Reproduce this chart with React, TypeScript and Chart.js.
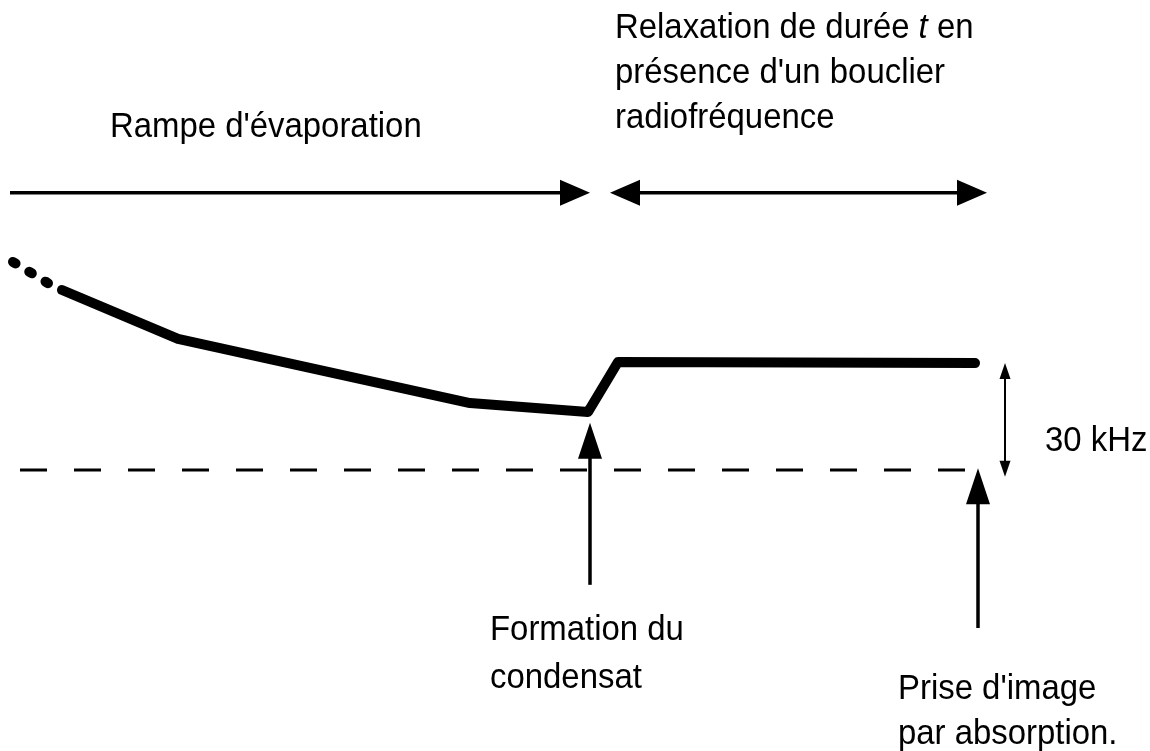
import React, { useEffect, useRef } from "react";
import { Chart, registerables } from "chart.js";

Chart.register(...registerables);

// Time axis (arbitrary units) and frequency axis (kHz relative to final cut)
const T_MIN = 0;
const T_MAX = 1150;
const F_MIN = -78.06;
const F_MAX = 130.56;

// Evaporation ramp (dotted lead-in), then ramp + relaxation plateau
const leadTime = [13, 48];
const leadFreq = [57.8, 51.9];
const curveTime = [62, 178, 470, 588, 618, 975];
const curveFreq = [50, 36.4, 18.6, 16.1, 30, 29.7];

// Reference (dashed) level
const baseTime = [20, 975];
const baseFreq = [0, 0];

// Arrows
const arrowStartT = [10, 610, 590, 978, 1005];
const arrowStartF = [77, 77, -31.9, -43.9, 29.7];
const arrowEndT = [590, 987, 590, 978, 1005];
const arrowEndF = [77, 77, 13.1, 0.5, -1.9];
const arrowHeads = [1, 2, 1, 1, 2];

// Labels
const labelText = [
  "Rampe d'évaporation",
  "présence d'un bouclier",
  "radiofréquence",
  "30 kHz",
  "Formation du",
  "condensat",
  "Prise d'image",
  "par absorption.",
];
const labelTime = [110, 615, 615, 1045, 490, 490, 898, 898];
const labelFreq = [92.5, 107.5, 95, 5.28, -47.2, -60.6, -63.6, -76.1];
const titleTime = 615;
const titleFreq = 120;

const FONT = '"Liberation Sans", Arial, sans-serif';
const FONT_SIZE = 35;
const X_SQUEEZE = 0.94;

const drawPlugin = {
  id: "schematic",
  afterDatasetsDraw(chart: any) {
    const ctx = chart.ctx as CanvasRenderingContext2D;
    const xs = chart.scales.x;
    const ys = chart.scales.y;
    ctx.save();
    ctx.fillStyle = "#000";
    ctx.strokeStyle = "#000";

    const head = (tx: number, ty: number, ux: number, uy: number, len: number, half: number) => {
      const bx = tx - ux * len;
      const by = ty - uy * len;
      const px = -uy;
      const py = ux;
      ctx.beginPath();
      ctx.moveTo(tx, ty);
      ctx.lineTo(bx + px * half, by + py * half);
      ctx.lineTo(bx - px * half, by - py * half);
      ctx.closePath();
      ctx.fill();
    };

    for (let i = 0; i < arrowStartT.length; i++) {
      const x0 = xs.getPixelForValue(arrowStartT[i]);
      const y0 = ys.getPixelForValue(arrowStartF[i]);
      const x1 = xs.getPixelForValue(arrowEndT[i]);
      const y1 = ys.getPixelForValue(arrowEndF[i]);
      const dx = x1 - x0;
      const dy = y1 - y0;
      const d = Math.hypot(dx, dy);
      const ux = dx / d;
      const uy = dy / d;
      const small = i === 4;
      const vertical = i === 2 || i === 3;
      const len = small ? 16 : vertical ? 36 : 30;
      const half = small ? 5.5 : vertical ? 12 : 13;
      const lw = small ? 2 : 3.5;
      let sx = x0, sy = y0;
      const ex = x1 - ux * (len - 2), ey = y1 - uy * (len - 2);
      if (arrowHeads[i] === 2) {
        sx = x0 + ux * (len - 2);
        sy = y0 + uy * (len - 2);
      }
      ctx.lineWidth = lw;
      ctx.lineCap = "butt";
      ctx.beginPath();
      ctx.moveTo(sx, sy);
      ctx.lineTo(ex, ey);
      ctx.stroke();
      head(x1, y1, ux, uy, len, half);
      if (arrowHeads[i] === 2) head(x0, y0, -ux, -uy, len, half);
    }

    ctx.textBaseline = "alphabetic";
    ctx.textAlign = "left";
    const squeezedText = (parts: [string, string][], px: number, py: number) => {
      ctx.save();
      ctx.translate(px, py);
      ctx.scale(X_SQUEEZE, 1);
      let x = 0;
      for (const [s, st] of parts) {
        ctx.font = `${st} ${FONT_SIZE}px ${FONT}`;
        ctx.fillText(s, x, 0);
        x += ctx.measureText(s).width;
      }
      ctx.restore();
    };
    for (let i = 0; i < labelText.length; i++) {
      squeezedText([[labelText[i], "normal"]], xs.getPixelForValue(labelTime[i]), ys.getPixelForValue(labelFreq[i]));
    }
    squeezedText(
      [
        ["Relaxation de durée ", "normal"],
        ["t", "italic"],
        [" en", "normal"],
      ],
      xs.getPixelForValue(titleTime),
      ys.getPixelForValue(titleFreq)
    );
    ctx.restore();
  },
};

export default function App() {
  const ref = useRef<HTMLCanvasElement>(null);
  useEffect(() => {
    if (!ref.current) return;
    const toPts = (t: number[], f: number[]) => t.map((v, i) => ({ x: v, y: f[i] }));
    const chart = new Chart(ref.current, {
      type: "scatter",
      data: {
        datasets: [
          {
            data: toPts(baseTime, baseFreq),
            showLine: true,
            borderColor: "#000",
            borderWidth: 3,
            borderDash: [27, 27],
            pointRadius: 0,
          },
          {
            data: toPts(leadTime, leadFreq),
            showLine: true,
            borderColor: "#000",
            borderWidth: 10,
            borderDash: [3, 16],
            borderCapStyle: "round",
            pointRadius: 0,
          },
          {
            data: toPts(curveTime, curveFreq),
            showLine: true,
            borderColor: "#000",
            borderWidth: 10,
            borderCapStyle: "round",
            borderJoinStyle: "round",
            pointRadius: 0,
          },
        ],
      },
      options: {
        responsive: false,
        animation: false,
        devicePixelRatio: 1,
        layout: { padding: 0 },
        plugins: { legend: { display: false }, tooltip: { enabled: false } },
        scales: {
          x: { type: "linear", min: T_MIN, max: T_MAX, display: false },
          y: { type: "linear", min: F_MIN, max: F_MAX, display: false },
        },
      },
      plugins: [drawPlugin],
    });
    return () => chart.destroy();
  }, []);
  return (
    <div style={{ position: "absolute", left: 0, top: 0, width: 1150, height: 751, background: "#fff" }}>
      <canvas ref={ref} width={1150} height={751} style={{ display: "block" }} />
    </div>
  );
}
